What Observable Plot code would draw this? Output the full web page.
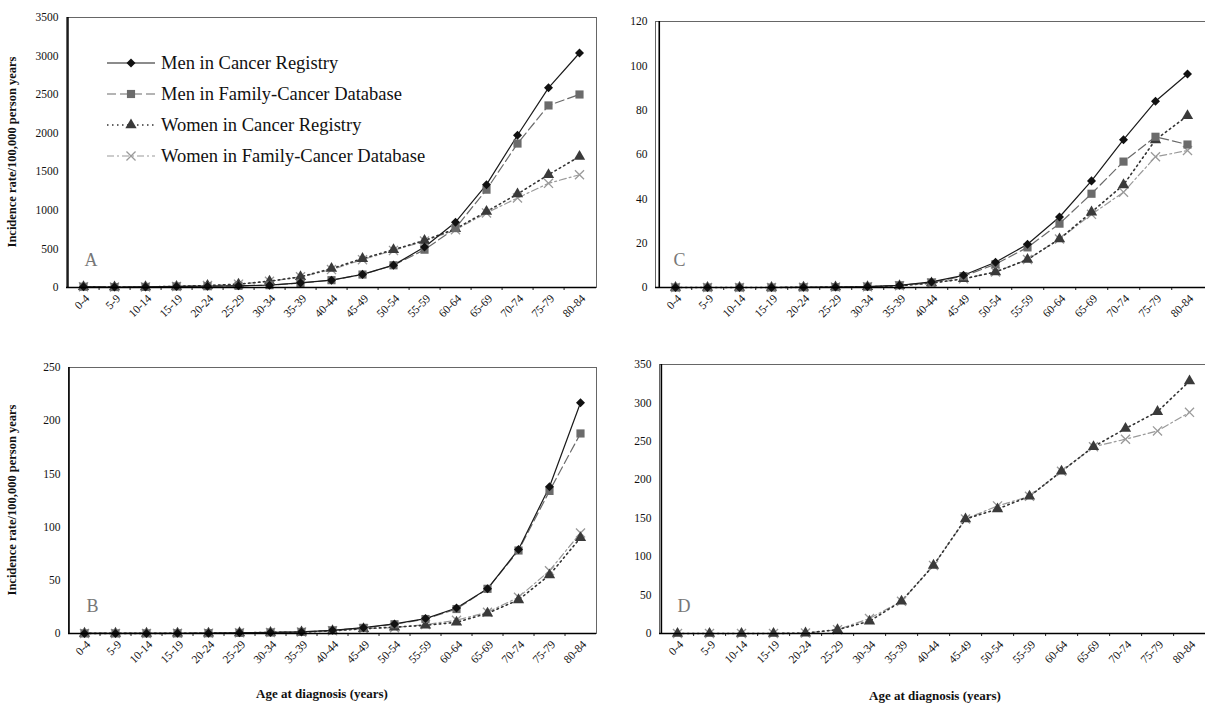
<!DOCTYPE html>
<html><head><meta charset="utf-8">
<script src="https://cdn.jsdelivr.net/npm/d3@7"></script>
<script src="https://cdn.jsdelivr.net/npm/@observablehq/plot@0.6"></script>
<style>
body{margin:0;background:#fff;font-family:"Liberation Serif","Times New Roman",serif;}
#wrap{position:relative;width:1205px;height:706px;overflow:hidden;background:#fff;}
.panel{position:absolute;}
.ytitle{position:absolute;font-weight:bold;font-size:12.5px;white-space:nowrap;transform:translate(-50%,-50%) rotate(-90deg);color:#111;}
.xtitle{position:absolute;font-weight:bold;font-size:13px;white-space:nowrap;transform:translate(-50%,-50%);color:#111;}
</style></head><body><div id="wrap"></div>
<script>
const ages = ["0-4","5-9","10-14","15-19","20-24","25-29","30-34","35-39","40-44","45-49","50-54","55-59","60-64","65-69","70-74","75-79","80-84"];
const seriesNames = ["Men in Cancer Registry","Men in Family-Cancer Database","Women in Cancer Registry","Women in Family-Cancer Database"];

// Panel A
const A_menCR   = [10,6,8,14,17,22,30,60,95,170,290,524,847,1333,1973,2588,3040];
const A_menFCD  = [10,6,8,14,17,22,30,58,95,168,288,490,770,1268,1866,2360,2502];
const A_womCR   = [10,6,8,14,26,43,82,138,245,374,490,610,761,984,1212,1462,1698];
const A_womFCD  = [10,6,8,14,26,43,80,138,232,361,481,602,748,967,1161,1350,1462];
// Panel C
const C_menCR   = [0,0,0,0,0.1,0.2,0.4,1,2.5,5.5,11.4,19.5,31.8,48.1,66.7,84,96.3];
const C_menFCD  = [0,0,0,0,0.1,0.2,0.4,1,2.3,5.1,10.5,18.1,28.8,42.3,56.8,68,64.5];
const C_womCR   = [0,0,0,0,0.1,0.2,0.3,0.8,2,3.9,7,12.6,21.9,34,46.3,66.6,77.5];
const C_womFCD  = [0,0,0,0,0.1,0.2,0.3,0.8,2,3.9,7,12.6,21.9,33,43,59,61.8];
// Panel B
const B_menCR   = [0.1,0.1,0.1,0.2,0.3,0.6,1,1.5,3,5.5,9,14,24,42,79,138,216.8];
const B_menFCD  = [0.1,0.1,0.1,0.2,0.3,0.6,1,1.5,3,5.3,8.7,13.6,23,42,78,134,188];
const B_womCR   = [0.1,0.1,0.1,0.2,0.3,0.6,1,1.3,2.5,4.5,6,7.7,10.5,19,31.6,55,90];
const B_womFCD  = [0.1,0.1,0.1,0.2,0.3,0.6,1,1.3,2.5,4.5,5.5,8.4,12.4,20,34,59,94.5];
// Panel D (women only)
const D_womCR   = [0,0,0,0,0.5,5,16,42,88.6,149,162,178.5,211,243,266.6,288.7,328.4];
const D_womFCD  = [0,0,0,0,0.5,5,19.5,42,88.6,149,166,178.5,211,243,252.8,263.6,287.8];

const yTicksA = [0,500,1000,1500,2000,2500,3000,3500];
const yTicksC = [0,20,40,60,80,100,120];
const yTicksB = [0,50,100,150,200,250];
const yTicksD = [0,50,100,150,200,250,300,350];

const styles = [
  {stroke:"#1a1a1a", dash:null, width:1.2, symbol:"square", rotate:45, fill:"#111", stroke2:null, r:3.6},
  {stroke:"#6a6a6a", dash:"9,4", width:1.2, symbol:"square", rotate:0, fill:"#6b6b6b", stroke2:null, r:4.6},
  {stroke:"#333", dash:"1.5,3.5", width:1.6, symbol:"triangle", rotate:0, fill:"#3a3a3a", stroke2:null, r:4.2},
  {stroke:"#9a9a9a", dash:"7,3,2,3", width:1.2, symbol:"times", rotate:0, fill:null, stroke2:"#9a9a9a", r:4.2}
];

function toRows(arrs){
  const rows=[];
  arrs.forEach((arr,si)=>{ if(!arr) return; arr.forEach((v,i)=>rows.push({series:seriesNames[si], si, age:ages[i], value:v})); });
  return rows;
}

function panel(cfg){
  const {arrs, yMax, yTicks, letter, width, height, ml, mr, mt, mb, left, top} = cfg;
  const rows = toRows(arrs);
  const step = (width - ml - mr) / ages.length;
  const marks = [
    Plot.frame({stroke:"#666", strokeWidth:1}),
    Plot.ruleX(ages.slice(0,-1), {x:d=>d, y1:0, y2:0, insetBottom:-3, dx:step/2, stroke:"#222", strokeWidth:1}),
    Plot.axisX({tickRotate:-45, tickSize:0, tickPadding:9, dx:4, fontSize:11.5, fill:"#111"}),
    Plot.axisY({ticks:yTicks, tickSize:0, tickPadding:8, fontSize:11.5, fill:"#111", tickFormat:d3.format("d")}),
    Plot.text([letter], {frameAnchor:"bottom-left", dx:18, dy:-22, fontSize:18, fill:"#777", fontFamily:"Liberation Serif, serif"})
  ];
  const order = [3,2,1,0];
  for (const si of order){
    if(!arrs[si]) continue;
    const s = styles[si];
    const d = rows.filter(r=>r.si===si);
    marks.push(Plot.line(d, {x:"age", y:"value", stroke:s.stroke, strokeWidth:s.width, strokeDasharray:s.dash}));
  }
  for (const si of order){
    if(!arrs[si]) continue;
    const s = styles[si];
    const d = rows.filter(r=>r.si===si);
    if (s.fill) marks.push(Plot.dot(d, {x:"age", y:"value", symbol:s.symbol, rotate:s.rotate, fill:s.fill, r:s.r}));
    else marks.push(Plot.dot(d, {x:"age", y:"value", symbol:s.symbol, stroke:s.stroke2, strokeWidth:1.3, r:s.r}));
  }
  marks.push(Plot.ruleY([0], {stroke:"#000", strokeWidth:1.6}));
  marks.push(Plot.ruleX([ages[0]], {dx:-step/2, stroke:"#000", strokeWidth:1.6}));
  const p = Plot.plot({
    width, height, marginLeft:ml, marginRight:mr, marginTop:mt, marginBottom:mb,
    style:{fontFamily:"Liberation Serif, Times New Roman, serif", fontSize:"11.5px", background:"transparent", overflow:"visible"},
    x:{type:"point", domain:ages, padding:0.5, label:null},
    y:{domain:[0,yMax], label:null},
    marks
  });
  const div = document.createElement("div");
  div.className="panel"; div.style.left=left+"px"; div.style.top=top+"px";
  div.appendChild(p);
  document.getElementById("wrap").appendChild(div);
}

panel({arrs:[A_menCR,A_menFCD,A_womCR,A_womFCD], yMax:3500, yTicks:yTicksA, letter:"A", width:600, height:340, ml:66, mr:4, mt:17, mb:53, left:0, top:0});
panel({arrs:[C_menCR,C_menFCD,C_womCR,C_womFCD], yMax:120, yTicks:yTicksC, letter:"C", width:605, height:340, ml:55, mr:-2, mt:21, mb:53, left:600, top:0});
panel({arrs:[B_menCR,B_menFCD,B_womCR,B_womFCD], yMax:250, yTicks:yTicksB, letter:"B", width:600, height:366, ml:68, mr:4, mt:27, mb:73, left:0, top:340});
panel({arrs:[null,null,D_womCR,D_womFCD], yMax:350, yTicks:yTicksD, letter:"D", width:605, height:366, ml:59, mr:-2, mt:24, mb:73, left:600, top:340});

// Axis titles
function addDiv(cls, text, x, y){
  const d=document.createElement("div"); d.className=cls; d.textContent=text;
  d.style.left=x+"px"; d.style.top=y+"px"; document.getElementById("wrap").appendChild(d);
}
addDiv("ytitle","Incidence rate/100,000 person years",12,152);
addDiv("ytitle","Incidence rate/100,000 person years",12,500);
addDiv("xtitle","Age at diagnosis (years)",322,694);
addDiv("xtitle","Age at diagnosis (years)",935,696);

// Legend (panel A)
const svg = d3.select("#wrap").append("svg")
  .attr("width",380).attr("height",130)
  .style("position","absolute").style("left","95px").style("top","40px");
const symMap = {square:d3.symbolSquare, triangle:d3.symbolTriangle, times:d3.symbolTimes};
seriesNames.forEach((name,i)=>{
  const s=styles[i]; const y=23+i*31;
  svg.append("line").attr("x1",12).attr("x2",60).attr("y1",y).attr("y2",y)
    .attr("stroke",s.stroke).attr("stroke-width",s.width).attr("stroke-dasharray",s.dash);
  const size = Math.PI*s.r*s.r;
  const path = svg.append("path").attr("d", d3.symbol(symMap[s.symbol], size)()).attr("transform",`translate(36,${y}) rotate(${s.rotate})`);
  if(s.fill) path.attr("fill",s.fill); else path.attr("fill","none").attr("stroke",s.stroke2).attr("stroke-width",1.3);
  svg.append("text").attr("x",66).attr("y",y).attr("dy","0.35em")
    .attr("font-family","Liberation Serif, Times New Roman, serif").attr("font-size",18.5).attr("fill","#111").text(name);
});
</script>
</body></html>
